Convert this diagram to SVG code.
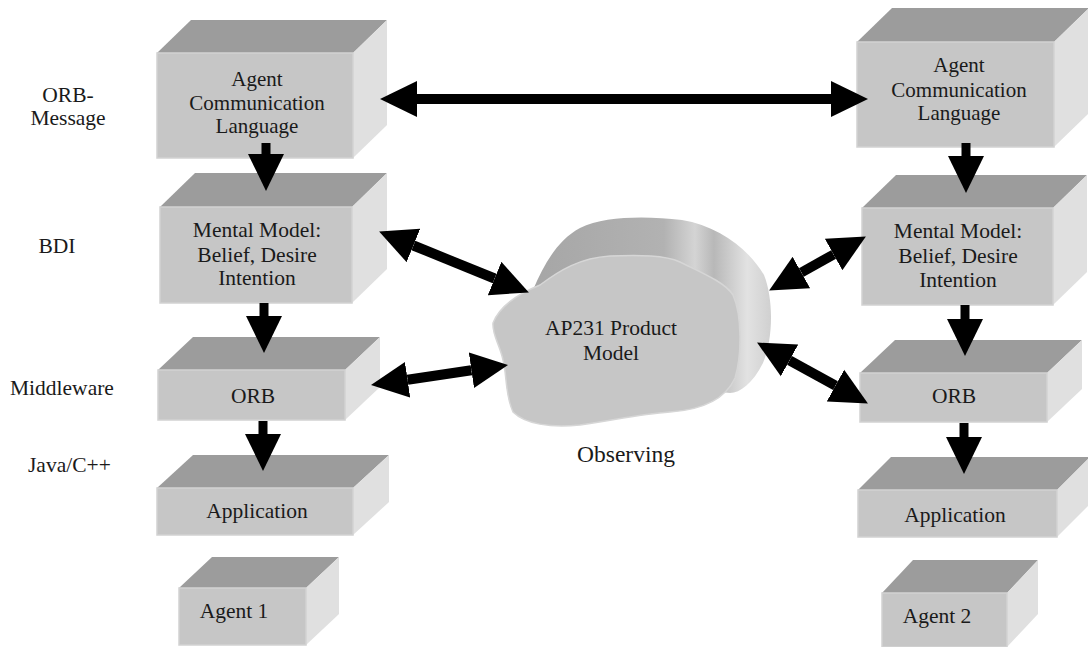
<svg xmlns="http://www.w3.org/2000/svg" width="1088" height="647" viewBox="0 0 1088 647" font-family="'Liberation Serif', 'DejaVu Serif', serif">
<style>
.front{fill:#c6c6c6;stroke:#d2d2d2;stroke-width:1.5}
.top{fill:#9c9c9c}
.side{fill:#e0e0e0}
text{font-family:'Liberation Serif','DejaVu Serif',serif;font-size:21.5px;fill:#1a1a1a;text-anchor:middle}
.acl{font-size:21px}
.lbl{text-anchor:start}
.obs{font-size:23.5px}
.arr{stroke:#000;stroke-width:10;fill:none}
.varr{stroke:#000;stroke-width:9;fill:none}
</style>
<defs>
<marker id="head" markerUnits="userSpaceOnUse" markerWidth="37" markerHeight="37" refX="0" refY="18" orient="auto-start-reverse" viewBox="0 0 37 36">
<path d="M0,0 L37,18 L0,36 Z" fill="#000"/>
</marker>
<linearGradient id="cloudBack" x1="0" y1="0" x2="1" y2="0">
<stop offset="0" stop-color="#a6a6a6"/>
<stop offset="0.55" stop-color="#b2b2b2"/>
<stop offset="0.68" stop-color="#d4d4d4"/>
<stop offset="0.76" stop-color="#b8b8b8"/>
<stop offset="0.9" stop-color="#e2e2e2"/>
<stop offset="1" stop-color="#d0d0d0"/>
</linearGradient>
</defs>
<rect width="1088" height="647" fill="#ffffff"/>

<g id="labels">
<text x="68" y="102">ORB-</text>
<text x="68" y="125">Message</text>
<text x="57" y="253">BDI</text>
<text class="lbl" x="10" y="395">Middleware</text>
<text class="lbl" x="28" y="472">Java/C++</text>
</g>

<g id="acl-left">
<polygon class="top" points="157,53 191,20 387,20 353,53"/>
<polygon class="side" points="353,53 387,20 387,125 353,158"/>
<rect class="front" x="157" y="53" width="196" height="105"/>
<text class="acl" x="257" y="86">Agent</text>
<text class="acl" x="257" y="110">Communication</text>
<text class="acl" x="257" y="133">Language</text>
</g>
<g id="mental-left">
<polygon class="top" points="160,207 195,173 387,173 352,207"/>
<polygon class="side" points="352,207 387,173 387,269 352,303"/>
<rect class="front" x="160" y="207" width="192" height="96"/>
<text x="257" y="237">Mental Model:</text>
<text x="257" y="262">Belief, Desire</text>
<text x="257" y="285">Intention</text>
</g>
<g id="orb-left">
<polygon class="top" points="158,370 193,337 380,337 345,370"/>
<polygon class="side" points="345,370 380,337 380,387 345,420"/>
<rect class="front" x="158" y="370" width="187" height="50"/>
<text x="253" y="403">ORB</text>
</g>
<g id="app-left">
<polygon class="top" points="157,488 193,455 389,455 353,488"/>
<polygon class="side" points="353,488 389,455 389,502 353,535"/>
<rect class="front" x="157" y="488" width="196" height="47"/>
<text x="257" y="518">Application</text>
</g>
<g id="agent1">
<polygon class="top" points="179,588 212,557 339,557 306,588"/>
<polygon class="side" points="306,588 339,557 339,614 306,645"/>
<rect class="front" x="179" y="588" width="127" height="57"/>
<text x="234" y="618">Agent 1</text>
</g>

<g id="acl-right">
<polygon class="top" points="857,42 892,8 1089,8 1054,42"/>
<polygon class="side" points="1054,42 1089,8 1089,113 1054,147"/>
<rect class="front" x="857" y="42" width="197" height="105"/>
<text class="acl" x="959" y="72">Agent</text>
<text class="acl" x="959" y="97">Communication</text>
<text class="acl" x="959" y="120">Language</text>
</g>
<g id="mental-right">
<polygon class="top" points="862,208 896,175 1087,175 1053,208"/>
<polygon class="side" points="1053,208 1087,175 1087,272 1053,305"/>
<rect class="front" x="862" y="208" width="191" height="97"/>
<text x="958" y="238">Mental Model:</text>
<text x="958" y="263">Belief, Desire</text>
<text x="958" y="287">Intention</text>
</g>
<g id="orb-right">
<polygon class="top" points="860,373 895,340 1082,340 1047,373"/>
<polygon class="side" points="1047,373 1082,340 1082,389 1047,422"/>
<rect class="front" x="860" y="373" width="187" height="49"/>
<text x="954" y="403">ORB</text>
</g>
<g id="app-right">
<polygon class="top" points="858,490 891,457 1090,457 1057,490"/>
<polygon class="side" points="1057,490 1090,457 1090,504 1057,537"/>
<rect class="front" x="858" y="490" width="199" height="47"/>
<text x="955" y="522">Application</text>
</g>
<g id="agent2">
<polygon class="top" points="882,593 913,560 1038,560 1007,593"/>
<polygon class="side" points="1007,593 1038,560 1038,614 1007,647"/>
<rect class="front" x="882" y="593" width="125" height="54"/>
<text x="937" y="623">Agent 2</text>
</g>

<g id="product-model">
<path fill="url(#cloudBack)" d="M533,290 C545,262 558,240 580,228 C605,216 645,216 682,220 C718,226 748,248 764,275 C774,300 773,340 763,363 C753,383 740,393 730,393 L700,390 L600,300 Z"/>
<path fill="#c6c6c6" stroke="#d6d6d6" stroke-width="1.5" d="M493,323 C500,305 520,293 540,285 C560,270 580,258 610,256 C640,255 665,255 680,262 C700,272 725,282 733,295 C742,315 742,355 735,378 C725,400 700,410 670,412 C640,414 615,420 580,425 C550,428 525,424 513,412 C505,395 507,375 503,360 C500,345 492,335 493,323 Z"/>
<text x="611" y="335">AP231 Product</text>
<text x="611" y="360">Model</text>
<text class="obs" x="626" y="462">Observing</text>
</g>

<g id="connectors">
<line class="arr" x1="417" y1="99" x2="831" y2="99" marker-start="url(#head)" marker-end="url(#head)"/>
<line class="arr" x1="413.4" y1="245.5" x2="494.6" y2="278.5" marker-start="url(#head)" marker-end="url(#head)"/>
<line class="arr" x1="801.4" y1="272.5" x2="833.6" y2="254.5" marker-start="url(#head)" marker-end="url(#head)"/>
<line class="arr" x1="407.6" y1="379.7" x2="471.4" y2="370.3" marker-start="url(#head)" marker-end="url(#head)"/>
<line class="arr" x1="789.5" y1="360.4" x2="835.5" y2="385.6" marker-start="url(#head)" marker-end="url(#head)"/>
<line class="varr" x1="266" y1="143" x2="266" y2="154" marker-end="url(#head)"/>
<line class="varr" x1="264" y1="303" x2="264" y2="316" marker-end="url(#head)"/>
<line class="varr" x1="263" y1="421" x2="263" y2="434" marker-end="url(#head)"/>
<line class="varr" x1="966" y1="143" x2="966" y2="156" marker-end="url(#head)"/>
<line class="varr" x1="965" y1="305" x2="965" y2="319" marker-end="url(#head)"/>
<line class="varr" x1="964" y1="423" x2="964" y2="437" marker-end="url(#head)"/>
</g>
</svg>
